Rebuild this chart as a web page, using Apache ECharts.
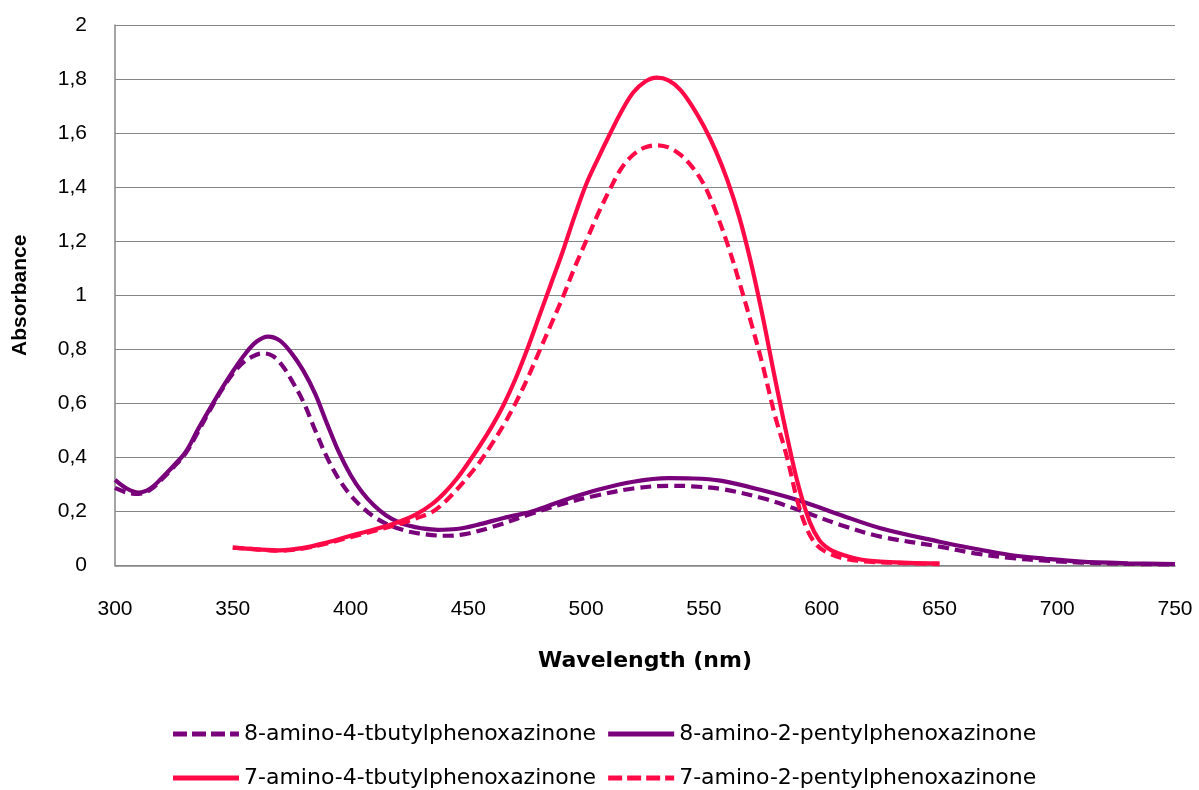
<!DOCTYPE html>
<html>
<head>
<meta charset="utf-8">
<script src="https://cdn.jsdelivr.net/npm/echarts@6/dist/echarts.min.js"></script>
<style>
html,body{margin:0;padding:0;background:#fff;}
#chart{width:1199px;height:790px;}
</style>
</head>
<body>
<div id="chart"></div>
<script>
// Tick values
const xTicks = [300, 350, 400, 450, 500, 550, 600, 650, 700, 750];
const yTicks = [0, 0.2, 0.4, 0.6, 0.8, 1, 1.2, 1.4, 1.6, 1.8, 2];

const seriesNames = [
  '8-amino-4-tbutylphenoxazinone',
  '8-amino-2-pentylphenoxazinone',
  '7-amino-4-tbutylphenoxazinone',
  '7-amino-2-pentylphenoxazinone'
];

// 8-amino-4-tbutylphenoxazinone (purple dashed)
const wl8tBu = [300,305,310,315,320,325,330,335,340,345,350,355,360,363,367,371,375,380,385,390,395,400,405,410,415,420,425,432,440,448,460,477,490,505,520,535,545,558,575,592,608,625,650,665,680,695,710,730,750];
const ab8tBu = [0.287,0.27,0.265,0.28,0.32,0.365,0.415,0.49,0.57,0.645,0.71,0.755,0.78,0.785,0.775,0.74,0.685,0.605,0.5,0.4,0.32,0.26,0.215,0.18,0.155,0.138,0.125,0.115,0.11,0.115,0.142,0.192,0.228,0.26,0.285,0.295,0.293,0.282,0.249,0.2,0.15,0.107,0.07,0.045,0.028,0.018,0.011,0.006,0.004];

// 8-amino-2-pentylphenoxazinone (purple solid)
const wl8Pen = [300,305,310,315,320,325,330,335,340,345,350,355,360,365,370,375,380,385,390,395,400,405,410,415,420,425,430,437,445,455,465,477,490,505,520,535,545,557,574,592,608,625,650,665,680,695,710,730,750];
const ab8Pen = [0.317,0.285,0.27,0.285,0.325,0.37,0.42,0.5,0.576,0.65,0.718,0.78,0.828,0.847,0.832,0.785,0.72,0.635,0.525,0.42,0.335,0.27,0.222,0.186,0.162,0.147,0.138,0.132,0.135,0.153,0.176,0.2,0.24,0.28,0.31,0.323,0.322,0.314,0.28,0.236,0.187,0.138,0.088,0.062,0.039,0.025,0.014,0.008,0.005];

// 7-amino-4-tbutylphenoxazinone (red solid)
const wl7tBu = [350,360,370,380,390,400,410,420,428,435,440,445,450,455,460,465,470,475,480,485,490,495,500,505,510,515,520,525,530,535,540,545,550,555,560,565,570,575,580,585,590,595,599,603,607,615,625,637,650];
const ab7tBu = [0.066,0.06,0.056,0.065,0.085,0.11,0.133,0.16,0.19,0.23,0.27,0.32,0.38,0.445,0.515,0.595,0.69,0.8,0.92,1.04,1.16,1.29,1.41,1.505,1.595,1.68,1.75,1.79,1.805,1.795,1.76,1.7,1.625,1.535,1.425,1.29,1.12,0.92,0.7,0.49,0.3,0.16,0.094,0.062,0.045,0.025,0.014,0.01,0.008];

// 7-amino-2-pentylphenoxazinone (red dashed)
const wl7Pen = [350,360,370,380,390,400,410,420,428,435,440,445,450,455,460,465,470,475,480,485,490,495,500,505,510,515,520,525,530,535,540,545,550,555,560,565,570,575,580,585,590,594,598,603,610,620,635,650];
const ab7Pen = [0.066,0.06,0.055,0.063,0.082,0.105,0.128,0.152,0.175,0.2,0.235,0.28,0.33,0.385,0.45,0.52,0.6,0.69,0.79,0.89,0.99,1.1,1.2,1.3,1.39,1.47,1.52,1.547,1.555,1.547,1.52,1.475,1.41,1.31,1.19,1.05,0.9,0.74,0.56,0.41,0.23,0.13,0.075,0.045,0.025,0.014,0.009,0.005];

function pairs(xs, ys) { return xs.map((x, i) => [x, ys[i]]); }

const PURPLE = '#78007a';
const RED = '#ff0a47';
const FONT = 'Liberation Sans, Arial, sans-serif';
const WIDE = 'DejaVu Sans, Liberation Sans, sans-serif';

const ICON_SOLID = 'path://M0,0h66v5h-66z';
const ICON_DASH = 'path://M0,0h14v5h-14z M19,0h14v5h-14z M38,0h14v5h-14z M57,0h9v5h-9z';

const chart = echarts.init(document.getElementById('chart'));

function lineSeries(name, data, color, dashed) {
  return {
    name: name,
    type: 'line',
    data: data,
    smooth: 0.35,
    showSymbol: false,
    symbol: 'none',
    lineStyle: { color: color, width: 4.2, type: dashed ? [11, 6] : 'solid' },
    itemStyle: { color: color },
    animation: false
  };
}

const legendText = { fontFamily: WIDE, fontSize: 22, color: '#000' };
const legendBase = {
  itemWidth: 66, itemHeight: 5, itemGap: 12,
  textStyle: legendText,
  selectedMode: false
};

chart.setOption({
  animation: false,
  backgroundColor: '#fff',
  grid: { left: 115, right: 24, top: 25, bottom: 224.5, containLabel: false },
  xAxis: {
    type: 'value',
    min: xTicks[0],
    max: xTicks[xTicks.length - 1],
    interval: 50,
    name: 'Wavelength (nm)',
    nameLocation: 'middle',
    nameGap: 85,
    nameTextStyle: { fontFamily: WIDE, fontSize: 22, fontWeight: 'bold', color: '#000' },
    axisLine: { show: true, lineStyle: { color: '#868686', width: 1.5 } },
    axisTick: { show: false },
    splitLine: { show: false },
    axisLabel: { fontFamily: FONT, fontSize: 21, color: '#000', margin: 33 }
  },
  yAxis: {
    type: 'value',
    min: yTicks[0],
    max: yTicks[yTicks.length - 1],
    interval: 0.2,
    name: 'Absorbance',
    nameLocation: 'middle',
    nameGap: 84,
    nameRotate: 90,
    nameTextStyle: { fontFamily: FONT, fontSize: 21, fontWeight: 'bold', color: '#000' },
    axisLine: { show: true, lineStyle: { color: '#868686', width: 1.5 } },
    axisTick: { show: false },
    splitLine: { show: true, lineStyle: { color: '#868686', width: 1.2 } },
    axisLabel: {
      fontFamily: FONT, fontSize: 21, color: '#000', margin: 28,
      formatter: v => String(+v.toFixed(1)).replace('.', ',')
    }
  },
  legend: [
    Object.assign({}, legendBase, {
      data: [
        { name: seriesNames[0], icon: ICON_DASH },
        { name: seriesNames[1], icon: ICON_SOLID }
      ],
      left: 168, top: 718
    }),
    Object.assign({}, legendBase, {
      data: [
        { name: seriesNames[2], icon: ICON_SOLID },
        { name: seriesNames[3], icon: ICON_DASH }
      ],
      left: 168, top: 762
    })
  ],
  series: [
    lineSeries(seriesNames[0], pairs(wl8tBu, ab8tBu), PURPLE, true),
    lineSeries(seriesNames[1], pairs(wl8Pen, ab8Pen), PURPLE, false),
    lineSeries(seriesNames[2], pairs(wl7tBu, ab7tBu), RED, false),
    lineSeries(seriesNames[3], pairs(wl7Pen, ab7Pen), RED, true)
  ]
});
</script>
</body>
</html>
